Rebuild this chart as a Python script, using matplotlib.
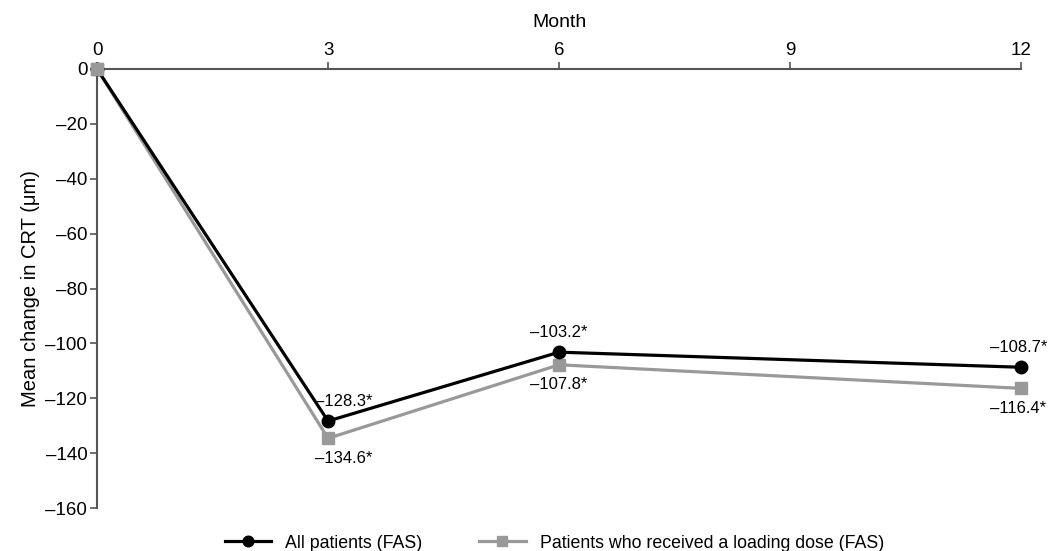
import matplotlib
matplotlib.use("Agg")
import matplotlib.pyplot as plt

months = [0, 3, 6, 12]
all_patients = [0, -128.3, -103.2, -108.7]
loading_dose = [0, -134.6, -107.8, -116.4]
all_labels = ["", "\u2013128.3*", "\u2013103.2*", "\u2013108.7*"]
loading_labels = ["", "\u2013134.6*", "\u2013107.8*", "\u2013116.4*"]
x_ticks = [0, 3, 6, 9, 12]
y_ticks = [0, -20, -40, -60, -80, -100, -120, -140, -160]

# horizontal nudges for the value labels (points)
label_dx = [0, 11, 0, -2]

plt.rcParams["font.family"] = ["Liberation Sans", "DejaVu Sans"]
plt.rcParams["font.size"] = 13.5

fig = plt.figure(figsize=(10.56, 5.51), dpi=100)
ax = fig.add_axes([0.0919, 0.078, 0.875, 0.7968])

gray = "#999999"
ax.plot(months, loading_dose, color=gray, lw=2.3, marker="s", ms=9,
        clip_on=False, zorder=3, label="Patients who received a loading dose (FAS)")
ax.plot(months, all_patients, color="black", lw=2.3, marker="o", ms=9,
        clip_on=False, zorder=4, label="All patients (FAS)")
# gray square sits on top at month 0
ax.plot(months[:1], loading_dose[:1], color=gray, marker="s", ms=9, clip_on=False, zorder=5)

for x, y, t, dx in zip(months, all_patients, all_labels, label_dx):
    if t:
        ax.annotate(t, (x, y), xytext=(dx, 9), textcoords="offset points",
                    ha="center", va="bottom", fontsize=12)
for x, y, t, dx in zip(months, loading_dose, loading_labels, label_dx):
    if t:
        ax.annotate(t, (x, y), xytext=(dx, -9), textcoords="offset points",
                    ha="center", va="top", fontsize=12)

ax.set_xlim(0, 12)
ax.set_ylim(-160, 0)
ax.set_xticks(x_ticks)
ax.set_yticks(y_ticks)
ax.set_yticklabels([str(v).replace("-", "\u2013") for v in y_ticks])
ax.xaxis.tick_top()
ax.xaxis.set_label_position("top")
ax.set_xlabel("Month", labelpad=11, fontsize=14)
ax.set_ylabel("Mean change in CRT (\u03bcm)", fontsize=14.5, labelpad=4)

for s in ["right", "bottom"]:
    ax.spines[s].set_visible(False)
for s in ["top", "left"]:
    ax.spines[s].set_color("#555555")
    ax.spines[s].set_linewidth(1.5)
ax.tick_params(colors="#555555", labelcolor="black", width=1.2, length=5, direction="out", pad=2)

h, l = ax.get_legend_handles_labels()
fig.legend(h[::-1], l[::-1], loc="lower center", bbox_to_anchor=(0.525, -0.03), ncol=2,
           frameon=False, fontsize=12.8, handlelength=2.6, columnspacing=3.2, markerscale=0.85)

fig.savefig("out.png", dpi=100)
